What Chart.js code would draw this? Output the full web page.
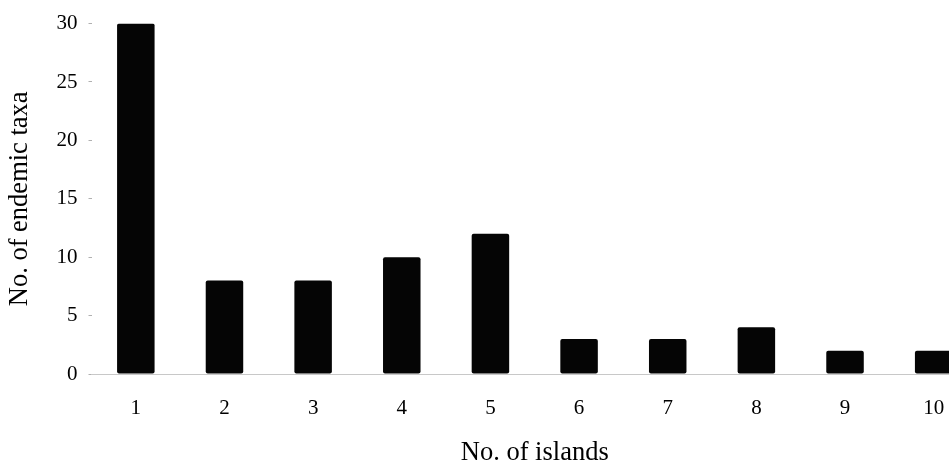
<!DOCTYPE html>
<html>
<head>
<meta charset="utf-8">
<script src="https://cdn.jsdelivr.net/npm/chart.js@4/dist/chart.umd.min.js"></script>
<style>
  html, body { margin: 0; padding: 0; background: #fff; overflow: hidden; width: 949px; height: 462px; }
  canvas { display: block; }
</style>
</head>
<body>
<canvas id="c" width="978" height="462"></canvas>
<script>
const categories = ["1", "2", "3", "4", "5", "6", "7", "8", "9", "10"];
const taxaCounts = [30, 8, 8, 10, 12, 3, 3, 4, 2, 2];
const yTicks = [0, 5, 10, 15, 20, 25, 30];

const serif = "'Liberation Serif', 'Times New Roman', serif";

new Chart(document.getElementById('c'), {
  type: 'bar',
  data: {
    labels: categories,
    datasets: [{
      data: taxaCounts,
      backgroundColor: '#050505',
      borderWidth: 0,
      borderRadius: 2,
      borderSkipped: false,
      barPercentage: 0.423,
      categoryPercentage: 1.0
    }]
  },
  options: {
    responsive: false,
    animation: false,
    devicePixelRatio: 1,
    layout: { padding: { top: 17, right: 0, bottom: 0, left: 0 } },
    plugins: { legend: { display: false }, tooltip: { enabled: false } },
    scales: {
      x: {
        offset: true,
        afterFit: (s) => { s.height = 88; },
        grid: { display: false, drawTicks: false },
        border: { display: true, color: '#c8c8c8', width: 1, dash: [6, 3] },
        ticks: { color: '#000', font: { family: serif, size: 21 }, padding: 22 },
        title: {
          display: true, text: 'No. of islands', color: '#000',
          font: { family: serif, size: 26.5, lineHeight: 0.7 }, padding: { top: 0, bottom: 0 }
        }
      },
      y: {
        min: 0, max: 30,
        afterBuildTicks: (s) => { s.ticks = yTicks.map(v => ({ value: v })); },
        afterFit: (s) => { s.width = 91.5; },
        grid: { display: true, drawOnChartArea: false, drawTicks: true, tickLength: 3, color: '#b0b0b0' },
        border: { display: false },
        ticks: { color: '#000', font: { family: serif, size: 21 }, padding: 11 },
        title: {
          display: true, text: 'No. of endemic taxa', color: '#000',
          font: { family: serif, size: 26.5, lineHeight: 1.2 }, padding: { top: 4, bottom: 0 }
        }
      }
    }
  }
});
</script>
</body>
</html>
